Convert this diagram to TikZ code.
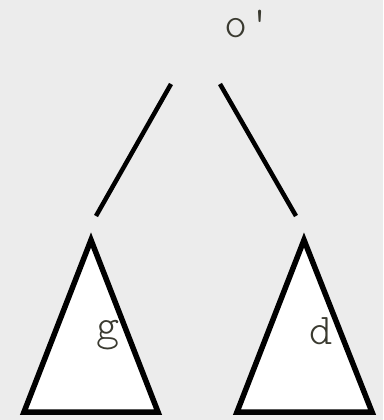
\documentclass[tikz,border=0pt]{standalone}
\usepackage{fontspec}
\newfontfamily\lightmono{lmmonolt10-regular.otf}
\definecolor{labelink}{HTML}{3A3A30}
\begin{document}
\begin{tikzpicture}[x=1pt,y=-1pt,
  edge/.style={line width=4.5pt,black},
  subtree/.style={draw=black,line width=5.5pt,fill=white,line join=miter},
  lbl/.style={font=\lightmono\fontsize{44}{44}\selectfont,text=labelink,inner sep=0pt}]
\fill[gray!15] (0,0) rectangle (383,420);
\useasboundingbox (0,0) rectangle (383,420);
\node[lbl] (root) at (248,24) {o'};
\coordinate (r1) at (171,84);
\coordinate (l1) at (96,216);
\coordinate (r2) at (220,84);
\coordinate (l2) at (296,216);
\draw[edge] (r1) -- (l1);
\draw[edge] (r2) -- (l2);
\coordinate (ta) at (91,240);
\coordinate (tb) at (24,412);
\coordinate (tc) at (158,412);
\draw[subtree] (ta) -- (tb) -- (tc) -- cycle;
\coordinate (ua) at (304,240);
\coordinate (ub) at (237,412);
\coordinate (uc) at (372,412);
\draw[subtree] (ua) -- (ub) -- (uc) -- cycle;
\node[lbl] (g) at (108,335) {g};
\node[lbl] (d) at (321,331) {d};
\end{tikzpicture}
\end{document}
